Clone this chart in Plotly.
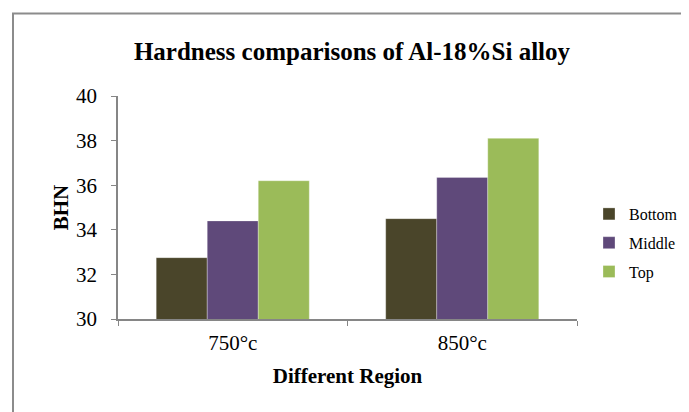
import plotly.graph_objects as go

categories = ["750°c", "850°c"]
series_names = ["Bottom", "Middle", "Top"]
bottom_vals = [32.75, 34.5]
middle_vals = [34.4, 36.35]
top_vals = [36.2, 38.1]
colors = ["#4A452A", "#5F497A", "#9BBB59"]
y_ticks = [30, 32, 34, 36, 38, 40]

FONT = "Liberation Serif, Times New Roman, serif"

fig = go.Figure()
for name, vals, col in zip(series_names, [bottom_vals, middle_vals, top_vals], colors):
    fig.add_trace(go.Bar(
        x=categories, y=vals, name=name, legendgroup=name,
        marker=dict(color=col, line=dict(color="rgba(255,255,255,0.6)", width=0.5)),
    ))

# page has an 8px body margin; work in page pixels and shift
OFF = 8
W, H = 681, 404
L = 118 - OFF
R = W - (577 - OFF)
T = 96 - OFF
B = H - (319 - OFF)
pw = W - L - R
ph = H - T - B

def px_x(x):  # page x -> paper
    return (x - OFF - L) / pw

def px_y(y):  # page y -> paper
    return (H - B - (y - OFF)) / ph

fig.update_layout(
    width=W, height=H,
    margin=dict(l=L, r=R, t=T, b=B, autoexpand=False),
    paper_bgcolor="white", plot_bgcolor="white",
    barmode="group", bargap=0.333, bargroupgap=0,
    font=dict(family=FONT, color="black"),
    title=dict(text="<b>Hardness comparisons of Al-18%Si alloy</b>",
               font=dict(size=25, family=FONT, color="black"),
               x=(352 - OFF) / W, xanchor="center", xref="container",
               y=1 - (51 - OFF) / H, yanchor="middle", yref="container"),
    legend=dict(x=px_x(589), xanchor="left", y=px_y(197), yanchor="top",
                font=dict(size=16, family=FONT), tracegroupgap=5,
                traceorder="grouped", bgcolor="rgba(0,0,0,0)"),
    xaxis=dict(showline=True, linecolor="#868686", linewidth=1.5,
               ticks="outside", tickson="boundaries", ticklen=5, tickcolor="#868686",
               tickfont=dict(size=21, family=FONT), ticklabelstandoff=4,
               title=dict(text="<b>Different Region</b>", font=dict(size=21, family=FONT), standoff=14),
               showgrid=False, automargin=False),
    yaxis=dict(range=[30, 40], tickvals=y_ticks, showline=True, linecolor="#868686", linewidth=1.5,
               ticks="outside", ticklen=5, tickcolor="#868686",
               tickfont=dict(size=21, family=FONT), ticklabelstandoff=10,
               title=dict(text="<b>BHN</b>", font=dict(size=21, family=FONT), standoff=2),
               showgrid=False, zeroline=False, automargin=False),
)

fig.add_shape(type="rect", xref="paper", yref="paper",
              x0=px_x(13), y0=px_y(H + 40), x1=px_x(W + 40), y1=px_y(13.5),
              line=dict(color="#8C8C8C", width=2), fillcolor="rgba(0,0,0,0)", layer="below")

fig.write_html("out.html")
